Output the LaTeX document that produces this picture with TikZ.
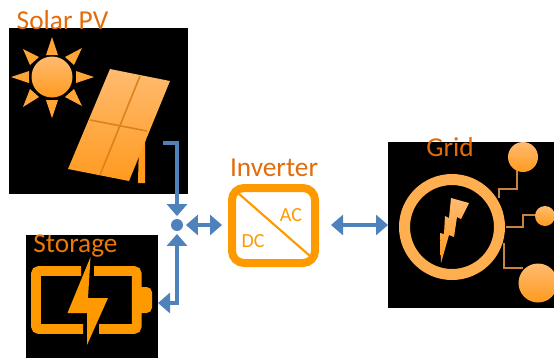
\documentclass[tikz,border=0pt]{standalone}
\usepackage{fontspec}
\setmainfont{Carlito}
\usetikzlibrary{arrows.meta}

\definecolor{pv_text}{HTML}{E36C0A}
\definecolor{inv_orange}{HTML}{FF9900}
\definecolor{icon_light}{HTML}{FFBB70}
\definecolor{icon_dark}{HTML}{FF9A1F}
\definecolor{link_blue}{HTML}{4F81BD}
\definecolor{wire_brown}{HTML}{C98240}

\tikzset{
  blackbox/.style={fill=black,inner sep=0pt,outer sep=0pt},
  title/.style={text=pv_text,font=\fontsize{20.5}{20.5}\selectfont,inner sep=0pt},
  sidelabel/.style={text=inv_orange,font=\fontsize{15}{15}\selectfont,inner sep=0pt},
  link/.style={draw=link_blue,line width=3pt},
  tip/.style={{Triangle[length=9pt,width=15pt]}-{Triangle[length=9pt,width=15pt]}},
  endtip/.style={-{Triangle[length=9pt,width=15pt]}},
  icon/.style={top color=icon_light,bottom color=icon_dark},
  ray/.style={fill=icon_dark!70!icon_light},
  wire/.style={draw=wire_brown,line width=1.2pt},
}

\begin{document}
\begin{tikzpicture}[x=0.75pt,y=-0.75pt]

\useasboundingbox (0,0) rectangle (554,358) ;

% black panels
\node[blackbox,minimum width=134.25pt,minimum height=124.5pt] (solar) at (98.5,111) {} ;
\node[blackbox,minimum width=99pt,minimum height=92.25pt] (storage) at (92,296.5) {} ;
\node[blackbox,minimum width=124.5pt,minimum height=124.5pt] (grid) at (471,225) {} ;

% sun
\shade[icon] (52,77) circle (20.5) ;
\fill[ray] (52,37) -- (46,55) -- (58,55) -- cycle ;
\fill[ray] (52,118) -- (46,100) -- (58,100) -- cycle ;
\fill[ray] (11,77) -- (29,71) -- (29,83) -- cycle ;
\fill[ray] (94,77) -- (76,71) -- (76,83) -- cycle ;
\fill[ray] (82,48) -- (65,57) -- (74,65) -- cycle ;
\fill[ray] (23,49) -- (39,57) -- (30,65) -- cycle ;
\fill[ray] (82,106) -- (65,97) -- (74,89) -- cycle ;
\fill[ray] (23,107) -- (39,97) -- (30,89) -- cycle ;

% solar panel
\fill[icon_dark] (139,140) -- (145,140) -- (145,183) -- (138,183) -- cycle ;
\shade[icon] (110,69) -- (170,81) -- (129,181) -- (68,169) -- cycle ;
\draw[icon_dark!85!black,line width=1.2pt] (140,76) -- (100,175) ;
\draw[icon_dark!85!black,line width=1.2pt] (90,120) -- (147,131) ;

% battery
\draw[inv_orange,line width=7.2pt,rounded corners=2pt] (81,271) -- (36,271) -- (36,329) -- (83,329) ;
\draw[inv_orange,line width=7.2pt,rounded corners=2pt] (94,271) -- (136.7,271) -- (136.7,329) -- (99,329) ;
\fill[inv_orange,rounded corners=4pt] (136,287) -- (152,287) -- (152,313) -- (136,313) -- cycle ;
\fill[inv_orange] (90.5,257) -- (67.5,313) -- (87,313) -- (87,345) -- (108,298) -- (88,298) -- cycle ;

% grid symbol
\draw[wire] (499,198) -- (499,189) -- (517,189) -- (517,170) ;
\draw[wire] (506,227) -- (523,227) -- (523,215) -- (536,215) ;
\draw[wire] (504,243) -- (504,268) -- (523,268) ;
\shade[icon] (523,157) circle (15) ;
\shade[icon] (545,216) circle (10) ;
\shade[icon] (538,283) circle (19.5) ;
\draw[icon_light!60!icon_dark,line width=8.25pt] (452,227) circle (47.5) ;
\shade[icon] (451,198) -- (469,203) -- (461,219) -- (457,217) -- (454,237) -- (449,235) -- (441,263) -- (440,233) -- (444,234) -- (445,216) -- (449,218) -- cycle ;

% inverter
\node[draw=inv_orange,line width=6pt,rounded corners=9pt,minimum width=62.25pt,minimum height=56.25pt] (inv) at (273.5,225.5) {} ;
\draw[inv_orange,line width=1.6pt] (238,193) -- (310,256) ;
\node[sidelabel] (ac) at (291,215) {AC} ;
\node[sidelabel] (dc) at (253,241) {DC} ;

% junction and links
\node[circle,fill=link_blue,inner sep=0pt,minimum size=9pt] (junction) at (177,225) {} ;
\coordinate (pv_out) at (163,143) ;
\coordinate (storage_in) at (158,303) ;
\draw[link,endtip,shorten >=2pt] (pv_out) -| (junction) ;
\draw[link,tip,shorten <=2pt] (junction) |- (storage_in) ;
\draw[link,tip,shorten <=2pt,shorten >=4.5pt] (junction) -- (junction -| inv.west) ;
\draw[link,tip,shorten <=9pt] (inv.east |- 0,225) -- (grid.west |- 0,225) ;

% labels
\node[title] (solar_label) at (62.5,20) {Solar PV} ;
\node[title,text=pv_text!70!inv_orange] (storage_label) at (75.5,246) {Storage} ;
\node[title] (inv_label) at (274,168) {Inverter} ;
\node[title] (grid_label) at (450,147) {Grid} ;

\end{tikzpicture}
\end{document}
